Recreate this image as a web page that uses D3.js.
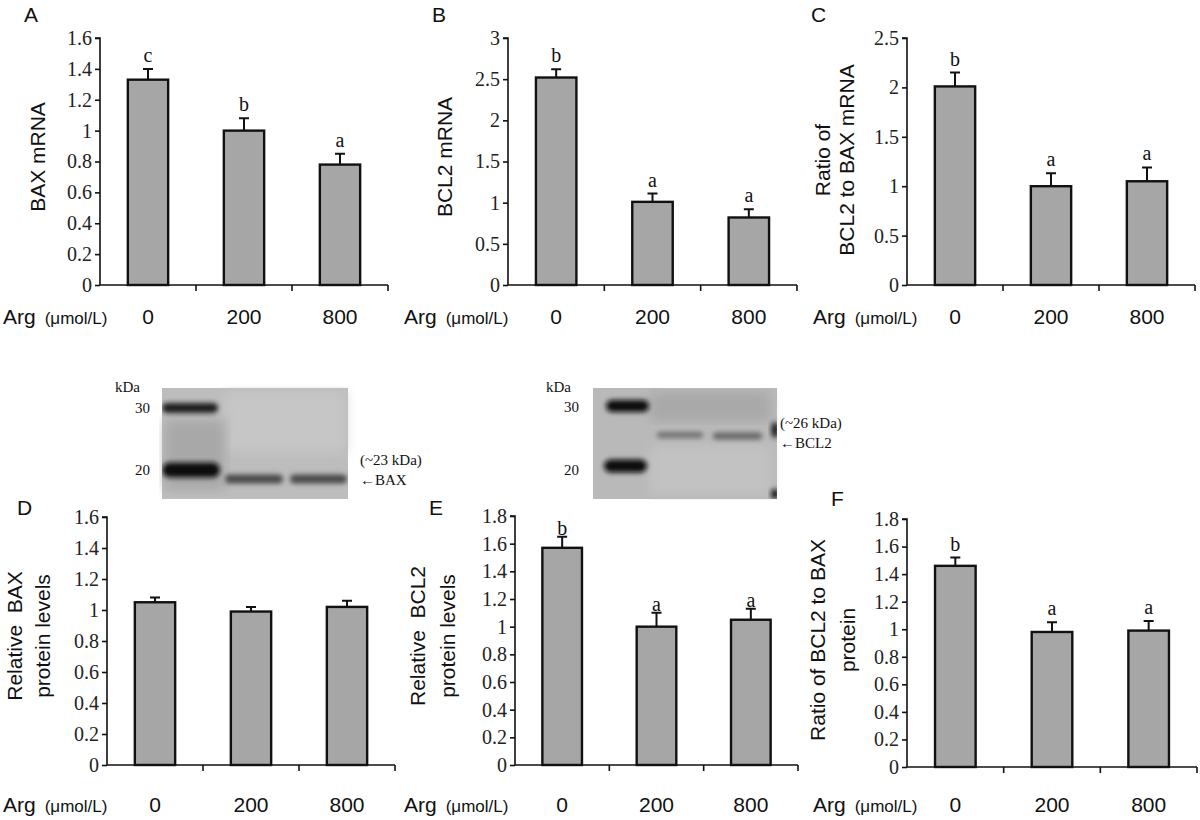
<!DOCTYPE html>
<html>
<head>
<meta charset="utf-8">
<script src="https://cdn.jsdelivr.net/npm/d3@7"></script>
<style>
  body { margin: 0; background: #fff; }
  svg { display: block; }
  .sans { font-family: 'Liberation Sans', Arial, sans-serif; fill: #111; }
  .serif { font-family: 'Liberation Serif', 'Times New Roman', serif; fill: #111; }
</style>
</head>
<body>
<svg width="1200" height="820"></svg>
<script>
// Data
var doses = ['0', '200', '800']

var baxMrna = [1.33, 1.0, 0.78]
var baxMrnaErr = [0.07, 0.08, 0.07]
var bcl2Mrna = [2.52, 1.01, 0.82]
var bcl2MrnaErr = [0.1, 0.1, 0.1]
var ratioMrna = [2.01, 1.0, 1.05]
var ratioMrnaErr = [0.14, 0.13, 0.14]

var baxProtein = [1.05, 0.99, 1.02]
var baxProteinErr = [0.03, 0.03, 0.04]
var bcl2Protein = [1.57, 1.0, 1.05]
var bcl2ProteinErr = [0.08, 0.1, 0.08]
var ratioProtein = [1.46, 0.98, 0.99]
var ratioProteinErr = [0.06, 0.07, 0.07]

var lettersA = ['c', 'b', 'a']
var lettersB = ['b', 'a', 'a']
var lettersC = ['b', 'a', 'a']
var lettersE = ['b', 'a', 'a']
var lettersF = ['b', 'a', 'a']

var ticksA = [0, 0.2, 0.4, 0.6, 0.8, 1, 1.2, 1.4, 1.6]
var ticksB = [0, 0.5, 1, 1.5, 2, 2.5, 3]
var ticksC = [0, 0.5, 1, 1.5, 2, 2.5]
var ticksD = [0, 0.2, 0.4, 0.6, 0.8, 1, 1.2, 1.4, 1.6]
var ticksE = [0, 0.2, 0.4, 0.6, 0.8, 1, 1.2, 1.4, 1.6, 1.8]
var ticksF = [0, 0.2, 0.4, 0.6, 0.8, 1, 1.2, 1.4, 1.6, 1.8]

var svg = d3.select('svg')

// blur filter for blot bands
var defs = svg.append('defs')
defs.append('filter').attr('id', 'blur').attr('x', '-30%').attr('y', '-100%')
  .attr('width', '160%').attr('height', '300%')
  .append('feGaussianBlur').attr('stdDeviation', 2.5)
defs.append('filter').attr('id', 'blurSoft')
  .append('feGaussianBlur').attr('stdDeviation', 6)

function panel(opts) {
  var g = svg.append('g')
  var x = d3.scaleBand().domain(doses).range([opts.x0, opts.x1])
  var y = d3.scaleLinear().domain([0, d3.max(opts.ticks)]).range([opts.yb, opts.yt])

  // y axis
  g.append('g')
    .attr('transform', 'translate(' + opts.x0 + ',0)')
    .call(d3.axisLeft(y).tickValues(opts.ticks).tickSize(5).tickPadding(3)
      .tickFormat(d3.format('~g')))
    .call(function(a) {
      a.select('.domain').attr('stroke', '#111').attr('stroke-width', 1.6)
        .attr('d', 'M-5,' + opts.yt + 'H0V' + opts.yb)
      a.selectAll('.tick line').attr('stroke', '#111').attr('stroke-width', 1.6)
      a.selectAll('.tick text')
        .attr('font-family', "'Liberation Serif', 'Times New Roman', serif")
        .attr('font-size', 20).attr('fill', '#222')
    })

  // x axis line with ticks at band edges
  g.append('line')
    .attr('x1', opts.x0).attr('x2', opts.x1)
    .attr('y1', opts.yb).attr('y2', opts.yb)
    .attr('stroke', '#111').attr('stroke-width', 1.6)
  g.selectAll('.xt').data(doses).enter().append('line')
    .attr('x1', function(d) { return x(d) + x.bandwidth() })
    .attr('x2', function(d) { return x(d) + x.bandwidth() })
    .attr('y1', opts.yb).attr('y2', opts.yb + 6)
    .attr('stroke', '#111').attr('stroke-width', 1.6)

  var bw = x.bandwidth() * 0.42
  var cx = function(d) { return x(d) + x.bandwidth() / 2 }

  // error bars
  g.selectAll('.err').data(doses).enter().append('path')
    .attr('d', function(d, i) {
      var top = y(opts.values[i] + opts.errs[i])
      return 'M' + cx(d) + ',' + y(opts.values[i]) + 'V' + top +
        'M' + (cx(d) - 5) + ',' + top + 'H' + (cx(d) + 5)
    })
    .attr('stroke', '#111').attr('stroke-width', 2).attr('fill', 'none')

  // bars
  g.selectAll('.bar').data(doses).enter().append('rect')
    .attr('x', function(d) { return cx(d) - bw / 2 })
    .attr('y', function(d, i) { return y(opts.values[i]) })
    .attr('width', bw)
    .attr('height', function(d, i) { return opts.yb - y(opts.values[i]) })
    .attr('fill', '#a6a6a6').attr('stroke', '#111').attr('stroke-width', 2.4)

  // significance letters
  if (opts.letters) {
    g.selectAll('.sig').data(doses).enter().append('text')
      .attr('class', 'serif')
      .attr('x', cx)
      .attr('y', function(d, i) { return y(opts.values[i] + opts.errs[i]) - opts.letterGap })
      .attr('text-anchor', 'middle')
      .attr('font-size', 20)
      .text(function(d, i) { return opts.letters[i] })
  }

  // category labels
  g.selectAll('.cat').data(doses).enter().append('text')
    .attr('class', 'sans')
    .attr('x', cx)
    .attr('y', opts.labelY)
    .attr('text-anchor', 'middle')
    .attr('font-size', 21)
    .text(function(d) { return d })
  var arg = g.append('text').attr('class', 'sans')
    .attr('x', opts.argX).attr('y', opts.labelY).attr('font-size', 21)
  arg.append('tspan').text('Arg')
  arg.append('tspan').attr('dx', 9).attr('font-size', 17).text('(\u03bcmol/L)')

  // panel letter
  g.append('text').attr('class', 'sans')
    .attr('x', opts.letterX).attr('y', opts.letterY)
    .attr('font-size', 21).text(opts.name)

  // y title (one or two lines)
  opts.title.forEach(function(t, i) {
    g.append('text').attr('class', 'sans')
      .attr('transform', 'translate(' + (opts.titleX + i * opts.lineGap) + ',' +
        opts.titleY + ') rotate(-90)')
      .attr('text-anchor', 'middle')
      .attr('font-size', 21)
      .style('white-space', 'pre')
      .text(t)
  })
}

panel({ name: 'A', x0: 100, x1: 388, yt: 38, yb: 285, ticks: ticksA,
  values: baxMrna, errs: baxMrnaErr, letters: lettersA, letterGap: 7,
  labelY: 324, argX: 3, letterX: 24, letterY: 22,
  title: ['BAX mRNA'], titleX: 45, titleY: 157, lineGap: 0 })

panel({ name: 'B', x0: 508, x1: 797, yt: 38, yb: 285, ticks: ticksB,
  values: bcl2Mrna, errs: bcl2MrnaErr, letters: lettersB, letterGap: 7,
  labelY: 324, argX: 404, letterX: 432, letterY: 22,
  title: ['BCL2 mRNA'], titleX: 452, titleY: 157, lineGap: 0 })

panel({ name: 'C', x0: 907, x1: 1195, yt: 38, yb: 285, ticks: ticksC,
  values: ratioMrna, errs: ratioMrnaErr, letters: lettersC, letterGap: 7,
  labelY: 324, argX: 813, letterX: 811, letterY: 22,
  title: ['Ratio of', 'BCL2 to BAX mRNA'], titleX: 830, titleY: 160, lineGap: 24 })

panel({ name: 'D', x0: 107, x1: 395, yt: 517, yb: 765, ticks: ticksD,
  values: baxProtein, errs: baxProteinErr, letters: null,
  labelY: 812, argX: 3, letterX: 17, letterY: 515,
  title: ['Relative  BAX', 'protein levels'], titleX: 22, titleY: 636, lineGap: 28 })

panel({ name: 'E', x0: 515, x1: 798, yt: 516, yb: 765, ticks: ticksE,
  values: bcl2Protein, errs: bcl2ProteinErr, letters: lettersE, letterGap: 2,
  labelY: 812, argX: 404, letterX: 429, letterY: 515,
  title: ['Relative  BCL2', 'protein levels'], titleX: 425, titleY: 636, lineGap: 30 })

panel({ name: 'F', x0: 907, x1: 1197, yt: 519, yb: 767, ticks: ticksF,
  values: ratioProtein, errs: ratioProteinErr, letters: lettersF, letterGap: 7,
  labelY: 812, argX: 813, letterX: 831, letterY: 506,
  title: ['Ratio of BCL2 to BAX', 'protein'], titleX: 825, titleY: 640, lineGap: 30 })

// Western blots (image-like decoration)
function blot(o) {
  var g = svg.append('g')
  g.append('rect').attr('x', o.x).attr('y', o.y).attr('width', o.w).attr('height', o.h)
    .attr('fill', o.bg)
  o.shades.forEach(function(s) {
    g.append('rect').attr('x', s[0]).attr('y', s[1]).attr('width', s[2]).attr('height', s[3])
      .attr('fill', s[4]).attr('filter', 'url(#blurSoft)')
  })
  var clip = 'clip' + o.id
  defs.append('clipPath').attr('id', clip).append('rect')
    .attr('x', o.x).attr('y', o.y).attr('width', o.w).attr('height', o.h)
  var bands = g.append('g').attr('clip-path', 'url(#' + clip + ')')
  o.bands.forEach(function(b) {
    bands.append('rect').attr('x', b[0]).attr('y', b[1] - b[3] / 2)
      .attr('width', b[2]).attr('height', b[3]).attr('rx', b[3] / 2)
      .attr('fill', b[4]).attr('filter', 'url(#blur)')
  })
  g.append('text').attr('class', 'serif').attr('x', o.kx).attr('y', 392)
    .attr('font-size', 15).text('kDa')
  o.marks.forEach(function(m) {
    g.append('text').attr('class', 'serif').attr('x', o.mx).attr('y', m[1] + 5)
      .attr('text-anchor', 'end').attr('font-size', 15).text(m[0])
  })
  g.append('text').attr('class', 'serif').attr('x', o.lx).attr('y', o.ly)
    .attr('font-size', 15).text(o.size)
  g.append('text').attr('class', 'serif').attr('x', o.lx).attr('y', o.ly + 20)
    .attr('font-size', 15).text('\u2190' + o.label)
}

blot({ id: 'bax', x: 162, y: 388, w: 186, h: 111, bg: '#bdbdbd',
  shades: [[225, 392, 120, 60, '#c6c6c6'], [165, 420, 60, 70, '#a8a8a8']],
  bands: [[162, 408, 56, 10, '#1a1a1a'], [162, 470, 58, 15, '#111'],
    [225, 479, 58, 9, '#4a4a4a'], [290, 479, 57, 9, '#4a4a4a']],
  kx: 115, mx: 150, marks: [['30', 408], ['20', 470]],
  lx: 360, ly: 465, size: '(~23 kDa)', label: 'BAX' })

blot({ id: 'bcl2', x: 593, y: 388, w: 184, h: 111, bg: '#b9b9b9',
  shades: [[650, 392, 120, 30, '#a9a9a9'], [650, 445, 120, 50, '#c2c2c2']],
  bands: [[606, 406, 43, 12, '#0d0d0d'], [604, 466, 43, 13, '#0d0d0d'],
    [657, 435, 46, 6, '#707070'], [713, 436, 49, 7, '#666'],
    [771, 430, 8, 16, '#222'], [771, 494, 8, 10, '#111']],
  kx: 546, mx: 579, marks: [['30', 407], ['20', 470]],
  lx: 780, ly: 428, size: '(~26 kDa)', label: 'BCL2' })
</script>
</body>
</html>
